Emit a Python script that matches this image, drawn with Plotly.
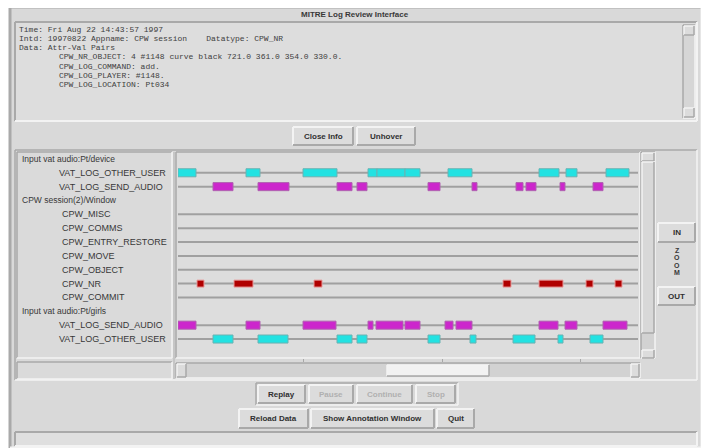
import plotly.graph_objects as go

W, H = 709, 448
OX, OY = 8, 8          # page body margin of the browser
FW, FH = W - OX, H - OY

# ---------------- data ----------------
row_labels = ["Input vat audio:Pt/device", "VAT_LOG_OTHER_USER", "VAT_LOG_SEND_AUDIO",
              "CPW session(2)/Window", "CPW_MISC", "CPW_COMMS", "CPW_ENTRY_RESTORE",
              "CPW_MOVE", "CPW_OBJECT", "CPW_NR", "CPW_COMMIT",
              "Input vat audio:Pt/girls", "VAT_LOG_SEND_AUDIO", "VAT_LOG_OTHER_USER"]
header_rows = [0, 3, 11]

other_user_1_start = [0, 68, 125, 190, 199, 227, 270, 361, 388, 428]
other_user_1_end = [18, 82, 159, 199, 227, 242, 294, 381, 399, 451]
send_audio_1_start = [35, 80, 159, 179, 250, 294, 338, 348, 382, 415]
send_audio_1_end = [55, 111, 174, 189, 262, 299, 345, 358, 387, 425]
cpw_nr_start = [19, 56, 136, 325, 361, 408, 437]
cpw_nr_end = [26, 75, 144, 333, 385, 415, 444]
send_audio_2_start = [0, 68, 125, 190, 198, 227, 267, 278, 361, 387, 425]
send_audio_2_end = [18, 82, 158, 195, 225, 242, 275, 294, 380, 399, 449]
other_user_2_start = [35, 80, 159, 179, 250, 292, 335, 380, 412]
other_user_2_end = [55, 110, 174, 189, 262, 298, 357, 385, 425]

time_ticks = [125, 264, 402]

info_lines = [
    "Time: Fri Aug 22 14:43:57 1997",
    "Intd: 19970822 Appname: CPW session    Datatype: CPW_NR",
    "Data: Attr-Val Pairs",
]
info_pairs = [
    "CPW_NR_OBJECT: 4 #1148 curve black 721.0 361.0 354.0 330.0.",
    "CPW_LOG_COMMAND: add.",
    "CPW_LOG_PLAYER: #1148.",
    "CPW_LOG_LOCATION: Pt034",
]

# ---------------- helpers ----------------
shapes, annots = [], []
BG = "#d9d9d9"
LIGHT = "#f3f3f3"
DARK = "#a9a9a9"
TXT = "#383838"


def PX(x):
    return (x - OX) / FW


def PY(y):
    return 1 - (y - OY) / FH


def rect(x0, y0, x1, y1, fill, line=None, lw=0):
    shapes.append(dict(type="rect", xref="paper", yref="paper",
                       x0=PX(x0), x1=PX(x1), y0=PY(y1), y1=PY(y0),
                       fillcolor=fill, line=dict(width=lw, color=line or fill),
                       layer="below"))


def hline(x0, x1, y, color, w=1):
    shapes.append(dict(type="line", xref="paper", yref="paper",
                       x0=PX(x0), x1=PX(x1), y0=PY(y), y1=PY(y),
                       line=dict(width=w, color=color), layer="below"))


def vline(x, y0, y1, color, w=1):
    shapes.append(dict(type="line", xref="paper", yref="paper",
                       x0=PX(x), x1=PX(x), y0=PY(y0), y1=PY(y1),
                       line=dict(width=w, color=color), layer="below"))


def bevel(x0, y0, x1, y1, raised=True, w=1.5):
    a, b = (LIGHT, DARK) if raised else (DARK, LIGHT)
    hline(x0, x1, y0, a, w)
    vline(x0, y0, y1, a, w)
    hline(x0, x1, y1, b, w)
    vline(x1, y0, y1, b, w)


def text(x, y, s, size=8, color=TXT, anchor="left", family="Liberation Sans", bold=False):
    if bold:
        s = "<b>" + s + "</b>"
    annots.append(dict(xref="paper", yref="paper", x=PX(x), y=PY(y), text=s,
                       showarrow=False, xanchor=anchor, yanchor="middle",
                       font=dict(size=size, color=color, family=family)))


def button(x0, y0, x1, y1, label, enabled=True):
    rect(x0, y0, x1, y1, "#dcdcdc")
    bevel(x0, y0, x1, y1, raised=True, w=2)
    text((x0 + x1) / 2, (y0 + y1) / 2, label, size=8,
         color="#303030" if enabled else "#b0b0b0", anchor="center", bold=True)


# ---------------- window chrome ----------------
rect(10, 7, 702, 448, BG)
bevel(10, 7, 702, 448, raised=False, w=3)
text(355, 15, "MITRE Log Review Interface", size=8, anchor="center", bold=True)

# info text area
rect(15, 22, 697, 121, "#dddddd")
bevel(15, 22, 697, 121, raised=False, w=2)
rect(683, 25, 695, 118, "#d6d6d6")
bevel(683, 25, 695, 118, raised=False)
rect(684, 26, 694, 35, "#dcdcdc")
bevel(684, 26, 694, 35, raised=True)
rect(684, 108, 694, 117, "#dcdcdc")
bevel(684, 108, 694, 117, raised=True)
for i, s in enumerate(info_lines):
    text(17, 29 + 9.3 * i, s.replace(" ", "&nbsp;"), size=8, family="Liberation Mono",
         color="#404040")
for i, s in enumerate(info_pairs):
    text(57, 57 + 9 * i, s.replace(" ", "&nbsp;"), size=8, family="Liberation Mono",
         color="#404040")

button(293, 127, 353, 145, "Close Info")
button(357, 127, 415, 145, "Unhover")

# timeline group
bevel(15, 150, 697, 380, raised=False)
rect(17, 152, 172, 358, "#dadada")
bevel(17, 152, 172, 358, raised=False)
rect(17, 362, 172, 379, "#dadada")
bevel(17, 362, 172, 379, raised=False)
rect(176, 152, 640, 358, "#dddddd")
bevel(176, 152, 640, 358, raised=False)
vline(174, 152, 379, "#c6c6c6", 2)

# vertical scrollbar
rect(641, 152, 655, 358, "#d2d2d2")
bevel(641, 152, 655, 358, raised=False)
rect(642, 153, 654, 161, "#dcdcdc")
bevel(642, 153, 654, 161, raised=True)
rect(642, 162, 654, 333, "#d8d8d8")
bevel(642, 162, 654, 333, raised=True)
rect(642, 350, 654, 358, "#dcdcdc")
bevel(642, 350, 654, 358, raised=True)

# horizontal scrollbar
rect(176, 363, 640, 378, "#d2d2d2")
bevel(176, 363, 640, 378, raised=False)
rect(177, 364, 186, 377, "#dcdcdc")
bevel(177, 364, 186, 377, raised=True)
rect(387, 365, 489, 376, "#f2f2f2")
bevel(387, 365, 489, 376, raised=True)
rect(631, 364, 639, 377, "#dcdcdc")
bevel(631, 364, 639, 377, raised=True)

# zoom controls
button(658, 223, 695, 242, "IN")
for i, ch in enumerate("ZOOM"):
    text(677, 250 + 7.5 * i, ch, size=7, anchor="center", bold=True)
button(658, 287, 695, 305, "OUT")

# bottom buttons
bevel(256, 383, 458, 405, raised=False)
button(258, 385, 305, 403, "Replay")
button(309, 385, 353, 403, "Pause", enabled=False)
button(357, 385, 412, 403, "Continue", enabled=False)
button(416, 385, 455, 403, "Stop", enabled=False)
button(239, 409, 308, 428, "Reload Data")
button(311, 409, 434, 428, "Show Annotation Window")
button(437, 409, 474, 428, "Quit")

# status bar
rect(15, 432, 697, 446, "#dfdfdf")
bevel(15, 432, 697, 446, raised=False, w=2)

# ---------------- timeline ----------------
fig = go.Figure()

item_rows = [i for i in range(len(row_labels)) if i not in header_rows]
for r in item_rows:
    shapes.append(dict(type="line", xref="x", yref="y", x0=0, x1=460, y0=r, y1=r,
                       line=dict(width=2, color="#a0a0a0"), layer="below"))

for i, lab in enumerate(row_labels):
    if i in header_rows:
        x = 20
    elif lab.startswith("VAT"):
        x = 57
    else:
        x = 60
    annots.append(dict(xref="paper", yref="y", x=PX(x), y=i, text=lab, showarrow=False,
                       xanchor="left", yanchor="middle",
                       font=dict(size=9 if i not in header_rows else 8.5,
                                 color=TXT, family="Liberation Sans")))


def add_bars(row, starts, ends, fill, edge, width=0.58):
    fig.add_trace(go.Bar(
        y=[row] * len(starts), base=starts,
        x=[e - s for s, e in zip(starts, ends)],
        orientation="h", width=width,
        marker=dict(color=fill, line=dict(color=edge, width=1)),
        hoverinfo="skip", showlegend=False))


CYAN, CYAN_EDGE = "#22e2e2", "#6ab2b2"
MAG, MAG_EDGE = "#cc26cc", "#b060b0"
add_bars(1, other_user_1_start, other_user_1_end, CYAN, CYAN_EDGE)
add_bars(2, send_audio_1_start, send_audio_1_end, MAG, MAG_EDGE)
add_bars(9, cpw_nr_start, cpw_nr_end, "#b00000", "#e89a9a", width=0.5)
add_bars(12, send_audio_2_start, send_audio_2_end, MAG, MAG_EDGE)
add_bars(13, other_user_2_start, other_user_2_end, CYAN, CYAN_EDGE)

fig.update_layout(
    width=FW, height=FH, margin=dict(l=0, r=0, t=0, b=0),
    paper_bgcolor="white", plot_bgcolor="rgba(0,0,0,0)",
    barmode="overlay", showlegend=False,
    shapes=shapes, annotations=annots,
    xaxis=dict(domain=[PX(178), PX(638)], range=[0, 460], showgrid=False, zeroline=False,
               showline=False, tickvals=time_ticks, ticks="outside", ticklen=3,
               tickcolor="#a8a8a8", showticklabels=False, fixedrange=True),
    yaxis=dict(domain=[PY(358), PY(152)], range=[14.37, -0.5], showgrid=False,
               zeroline=False, showline=False, showticklabels=False, ticks="",
               fixedrange=True),
)

fig.write_html("out.html")
